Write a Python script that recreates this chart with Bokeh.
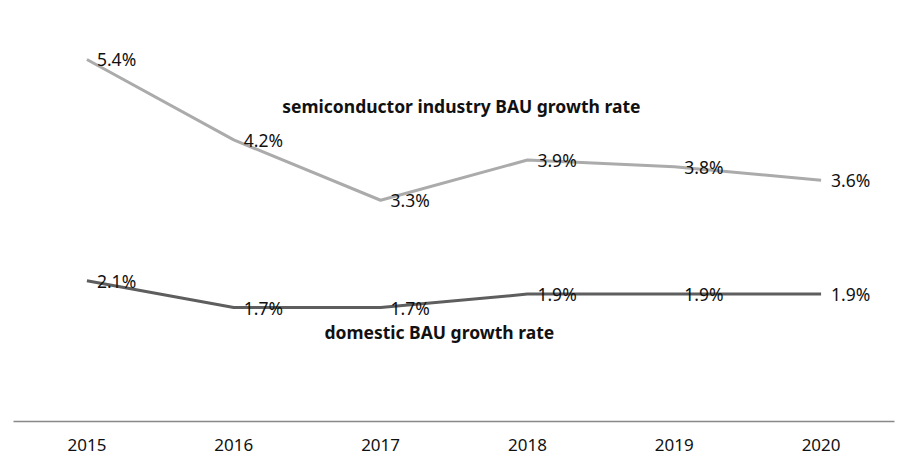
from bokeh.plotting import figure
from bokeh.models import ColumnDataSource, Range1d, Label
from bokeh.core.properties import value
from bokeh.embed import file_html
from bokeh.resources import INLINE

years = ["2015", "2016", "2017", "2018", "2019", "2020"]
semi_rate = [5.4, 4.2, 3.3, 3.9, 3.8, 3.6]
domestic_rate = [2.1, 1.7, 1.7, 1.9, 1.9, 1.9]
semi_name = "semiconductor industry BAU growth rate"
domestic_name = "domestic BAU growth rate"

p = figure(x_range=years, y_range=Range1d(0, 6.16), width=904, height=460,
           output_backend="svg", toolbar_location=None,
           min_border_left=13, min_border_right=10, min_border_top=8, min_border_bottom=39)
p.outline_line_color = None
p.xgrid.visible = False
p.ygrid.visible = False
p.yaxis.visible = False
p.background_fill_color = "white"
p.border_fill_color = "white"

semi_src = ColumnDataSource(dict(x=years, y=semi_rate, t=[f"{v:.1f}%" for v in semi_rate]))
dom_src = ColumnDataSource(dict(x=years, y=domestic_rate, t=[f"{v:.1f}%" for v in domestic_rate]))

p.line("x", "y", source=semi_src, line_color="#ababab", line_width=3)
p.line("x", "y", source=dom_src, line_color="#5e5e5e", line_width=3)

for src in (semi_src, dom_src):
    p.text("x", "y", text="t", source=src, x_offset=10, text_baseline="middle", text_align="left",
           text_font=value("Noto Sans"), text_font_size="17.5px", text_color="#111111")

p.add_layout(Label(x=3.05, y=4.70, text=semi_name, text_align="center",
                   text_baseline="middle", text_font="Noto Sans", text_font_size="17.5px",
                   text_font_style="bold", text_color="#111111"))
p.add_layout(Label(x=2.90, y=1.33, text=domestic_name, text_align="center",
                   text_baseline="middle", text_font="Noto Sans", text_font_size="17.5px",
                   text_font_style="bold", text_color="#111111"))

ax = p.xaxis[0]
ax.axis_line_color = "#888888"
ax.axis_line_width = 1.5
ax.major_tick_line_color = None
ax.minor_tick_line_color = None
ax.major_tick_out = 0
ax.major_tick_in = 0
ax.major_label_standoff = 17
ax.major_label_text_font = "Noto Sans"
ax.major_label_text_font_size = "17px"
ax.major_label_text_color = "#111111"

open("out.html", "w").write(file_html(p, INLINE))
